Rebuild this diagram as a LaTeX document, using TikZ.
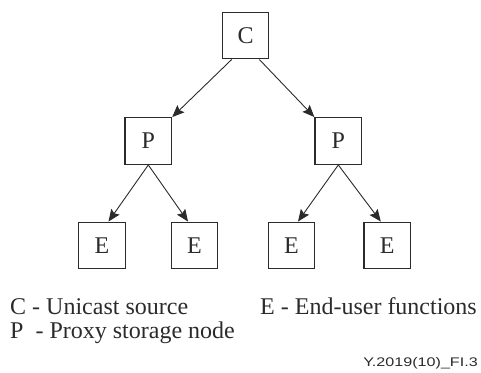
\documentclass[tikz,border=0pt]{standalone}
\usepackage{fontspec}
\setmainfont{Liberation Serif}
\newfontfamily\labelsans{Liberation Sans}
\usetikzlibrary{arrows.meta,calc}
\definecolor{ink}{HTML}{2B2B2B}
\begin{document}
\begin{tikzpicture}[x=1pt,y=-1pt,
  box/.style={draw=ink,line width=1.2pt,minimum width=46.7pt,minimum height=46.7pt,inner sep=0pt,text=ink,font=\fontsize{24}{24}\selectfont},
  conn/.style={draw=ink,line width=0.9pt,-{Stealth[length=12pt,width=10pt,inset=2pt]}},
  legend/.style={anchor=base west,inner sep=0pt,text=ink,font=\fontsize{24}{24}\selectfont}]
\useasboundingbox (0,0) rectangle (481,372);
\node[box] (C) at (245.5,35.5) {C};
\node[box] (P1) at (148.3,141) {P};
\node[box] (P2) at (338.3,141) {P};
\node[box] (E1) at (102,245.5) {E};
\node[box] (E2) at (194.5,245.5) {E};
\node[box] (E3) at (291.5,245.5) {E};
\node[box] (E4) at (387.3,245.5) {E};
\draw[conn] ($(C.south)+(-13.8,0)$) -- (P1.north east);
\draw[conn] ($(C.south)+(13.8,0)$) -- (P2.north west);
\draw[conn] (P1.south) -- ($(E1.north)+(6.5,0)$);
\draw[conn] (P1.south) -- ($(E2.north)+(-6.5,0)$);
\draw[conn] (P2.south) -- ($(E3.north)+(6.5,0)$);
\draw[conn] (P2.south) -- ($(E4.north)+(-6.5,0)$);
\node[legend] (l1) at (10,314) {C - Unicast source};
\node[legend] (l2) at (10,338) {P\ \ - Proxy storage node};
\node[legend] (l3) at (260,314) {E - End-user functions};
\node[anchor=base east,inner sep=0pt,text=ink,xscale=1.29,font=\labelsans\fontsize{12.5}{13}\selectfont] (fig) at (478,366.5) {Y.2019(10)\_FI.3};
\end{tikzpicture}
\end{document}
